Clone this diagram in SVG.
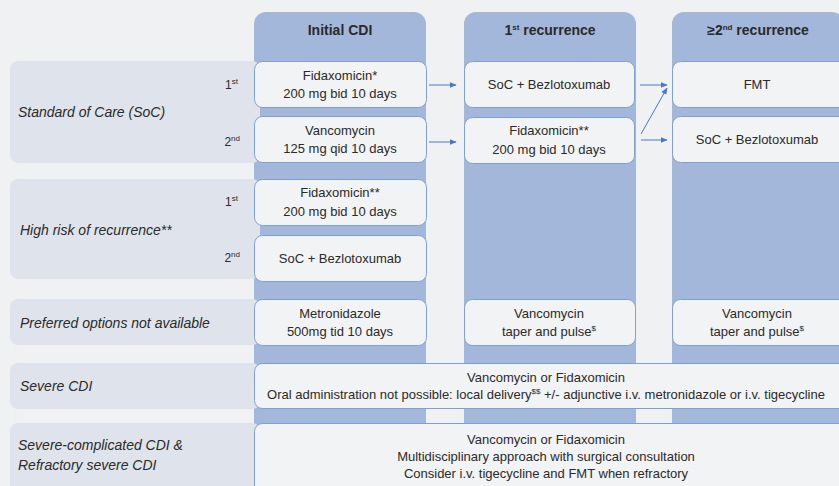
<svg xmlns="http://www.w3.org/2000/svg" width="839" height="486" viewBox="0 0 839 486">
<defs>
<style>
.bg{fill:#f0f1f3}
.col{fill:#a3b7da}
.lab{fill:#dfe4ec}
.box{fill:#f2f3f5;stroke:#7f9fd3;stroke-width:1}
text{font-family:"Liberation Sans",Arial,sans-serif;font-size:13px;fill:#2a2a2a}
.c{text-anchor:middle}
.i{font-style:italic;font-size:14px}
.h{font-weight:bold;font-size:14px;text-anchor:middle}
.n{text-anchor:end;font-size:12px}
.sup{font-size:8px}
.conn{stroke:#4a78c8;stroke-width:1;fill:none;marker-end:url(#ah)}
</style>
<marker id="ah" viewBox="0 0 10 10" refX="9" refY="5" markerWidth="7" markerHeight="7" markerUnits="userSpaceOnUse" orient="auto">
<path d="M0,1 L10,5 L0,9 z" fill="#4a78c8"/>
</marker>
</defs>
<rect class="bg" x="0" y="0" width="839" height="486"/>

<g id="columns">
<path class="col" d="M254,24 a12,12 0 0 1 12,-12 h148 a12,12 0 0 1 12,12 V486 H254 z"/>
<path class="col" d="M464,24 a12,12 0 0 1 12,-12 h148 a12,12 0 0 1 12,12 V486 H464 z"/>
<path class="col" d="M672,24 a12,12 0 0 1 12,-12 h148 a12,12 0 0 1 12,12 V486 H672 z"/>
<text class="h" x="340" y="35">Initial CDI</text>
<text class="h" x="550" y="35">1<tspan class="sup" dy="-5">st</tspan><tspan dy="5"> recurrence</tspan></text>
<text class="h" x="758" y="35">≥2<tspan class="sup" dy="-5">nd</tspan><tspan dy="5"> recurrence</tspan></text>
</g>

<g id="row-soc">
<rect class="lab" x="10" y="61" width="250" height="102" rx="8"/>
<text class="i" x="18" y="117">Standard of Care (SoC)</text>
<text class="n" x="238" y="89">1<tspan class="sup" dy="-5">st</tspan></text>
<text class="n" x="240" y="146">2<tspan class="sup" dy="-5">nd</tspan></text>
</g>
<g id="row-highrisk">
<rect class="lab" x="10" y="179" width="250" height="100" rx="8"/>
<text class="i" x="20" y="235">High risk of recurrence**</text>
<text class="n" x="238" y="206">1<tspan class="sup" dy="-5">st</tspan></text>
<text class="n" x="240" y="262">2<tspan class="sup" dy="-5">nd</tspan></text>
</g>
<g id="row-preferred">
<rect class="lab" x="10" y="299" width="250" height="46" rx="8"/>
<text class="i" x="20" y="328">Preferred options not available</text>
</g>
<g id="row-severe">
<rect class="lab" x="10" y="363" width="250" height="46" rx="8"/>
<text class="i" x="20" y="391">Severe CDI</text>
</g>
<g id="row-severe-complicated">
<rect class="lab" x="10" y="423" width="250" height="70" rx="8"/>
<text class="i" x="18" y="450">Severe-complicated CDI &amp;</text>
<text class="i" x="18" y="470">Refractory severe CDI</text>
</g>

<g id="n-init-fid">
<rect class="box" x="254.5" y="61.5" width="172" height="46" rx="8"/>
<text class="c" x="340" y="80">Fidaxomicin*</text>
<text class="c" x="340" y="98">200 mg bid 10 days</text>
</g>
<g id="n-init-van">
<rect class="box" x="254.5" y="116.5" width="172" height="46" rx="8"/>
<text class="c" x="340" y="135">Vancomycin</text>
<text class="c" x="340" y="153">125 mg qid 10 days</text>
</g>
<g id="n-hr-fid">
<rect class="box" x="254.5" y="179.5" width="172" height="46" rx="8"/>
<text class="c" x="340" y="197">Fidaxomicin**</text>
<text class="c" x="340" y="216">200 mg bid 10 days</text>
</g>
<g id="n-hr-bez">
<rect class="box" x="254.5" y="235.5" width="172" height="46" rx="8"/>
<text class="c" x="340" y="263">SoC + Bezlotoxumab</text>
</g>
<g id="n-pref-met">
<rect class="box" x="254.5" y="299.5" width="172" height="46" rx="8"/>
<text class="c" x="340" y="318">Metronidazole</text>
<text class="c" x="340" y="336">500mg tid 10 days</text>
</g>

<g id="n-r1-bez">
<rect class="box" x="464.5" y="61.5" width="170" height="46" rx="8"/>
<text class="c" x="549" y="89">SoC + Bezlotoxumab</text>
</g>
<g id="n-r1-fid">
<rect class="box" x="464.5" y="117.5" width="170" height="46" rx="8"/>
<text class="c" x="549" y="135">Fidaxomicin**</text>
<text class="c" x="549" y="154">200 mg bid 10 days</text>
</g>
<g id="n-r1-van">
<rect class="box" x="464.5" y="299.5" width="171" height="46" rx="8"/>
<text class="c" x="549" y="318">Vancomycin</text>
<text class="c" x="549" y="336">taper and pulse<tspan class="sup" dy="-5">$</tspan></text>
</g>

<g id="n-r2-fmt">
<rect class="box" x="672.5" y="61.5" width="180" height="46" rx="8"/>
<text class="c" x="757" y="89">FMT</text>
</g>
<g id="n-r2-bez">
<rect class="box" x="672.5" y="116.5" width="180" height="46" rx="8"/>
<text class="c" x="757" y="144">SoC + Bezlotoxumab</text>
</g>
<g id="n-r2-van">
<rect class="box" x="672.5" y="299.5" width="180" height="46" rx="8"/>
<text class="c" x="757" y="318">Vancomycin</text>
<text class="c" x="757" y="336">taper and pulse<tspan class="sup" dy="-5">$</tspan></text>
</g>

<g id="n-severe">
<rect class="box" x="254.5" y="363.5" width="600" height="45" rx="8"/>
<text class="c" x="546" y="382">Vancomycin or Fidaxomicin</text>
<text class="c" x="546" y="399">Oral administration not possible: local delivery<tspan class="sup" dy="-5">$$</tspan><tspan dy="5"> +/- adjunctive i.v. metronidazole or i.v. tigecycline</tspan></text>
</g>
<g id="n-severe-complicated">
<rect class="box" x="254.5" y="423.5" width="600" height="80" rx="8"/>
<text class="c" x="546" y="444">Vancomycin or Fidaxomicin</text>
<text class="c" x="546" y="461">Multidisciplinary approach with surgical consultation</text>
<text class="c" x="546" y="478">Consider i.v. tigecycline and FMT when refractory</text>
</g>

<g id="connectors">
<line class="conn" x1="429" y1="85" x2="456" y2="85"/>
<line class="conn" x1="429" y1="142" x2="456" y2="142"/>
<line class="conn" x1="640" y1="85" x2="667" y2="85"/>
<line class="conn" x1="641" y1="134" x2="667" y2="88"/>
<line class="conn" x1="641" y1="140" x2="667" y2="140"/>
</g>
</svg>
